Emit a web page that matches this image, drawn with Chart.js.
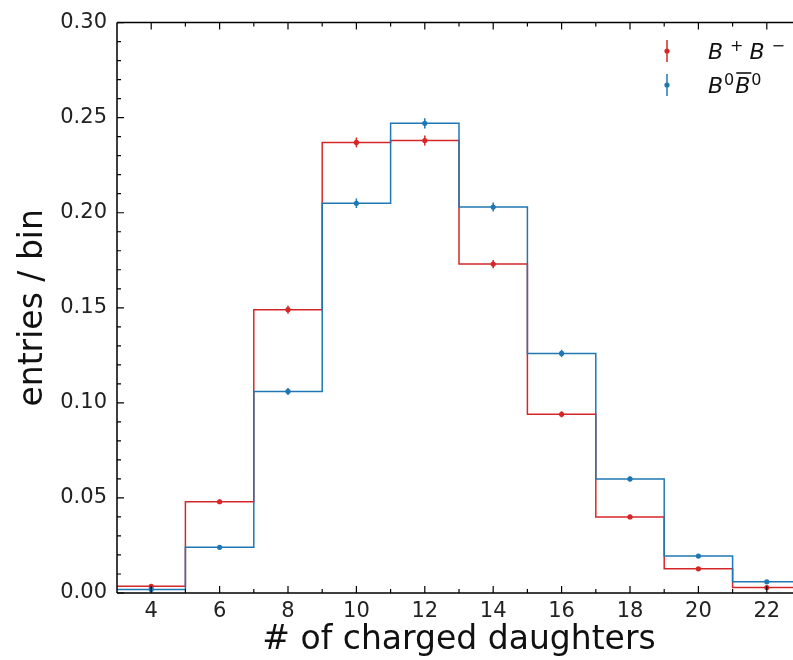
<!DOCTYPE html>
<html>
<head>
<meta charset="utf-8">
<script src="https://cdn.jsdelivr.net/npm/chart.js@4.4.1/dist/chart.umd.min.js"></script>
<style>
  html, body { margin: 0; padding: 0; background: #fff; overflow: hidden; }
  #wrap { width: 793px; height: 660px; overflow: hidden; }
</style>
</head>
<body>
<div id="wrap"><canvas id="histChart" width="805" height="660"></canvas></div>
<script>
// bin centres (# of charged daughters), bin width 2
const binCenters = [4, 6, 8, 10, 12, 14, 16, 18, 20, 22];
const binWidth = 2;

// normalised entries per bin
const chargedValues = [0.0035, 0.048, 0.149, 0.237, 0.238, 0.173, 0.094, 0.040, 0.0127, 0.0029];
const chargedErrors = [0.0004, 0.0012, 0.0021, 0.0026, 0.0026, 0.0022, 0.0016, 0.0010, 0.0006, 0.0003];
const neutralValues = [0.0019, 0.024, 0.106, 0.205, 0.247, 0.203, 0.126, 0.060, 0.0194, 0.0059];
const neutralErrors = [0.0003, 0.0009, 0.0018, 0.0025, 0.0027, 0.0024, 0.0019, 0.0013, 0.0007, 0.0004];

const xTickLabels = [4, 6, 8, 10, 12, 14, 16, 18, 20, 22];
const yTickLabels = [0.00, 0.05, 0.10, 0.15, 0.20, 0.25, 0.30];

const RED = '#d62728';
const BLUE = '#1f77b4';
const FONT = "'DejaVu Sans', sans-serif";

// step outline: left edge of every bin carries that bin's value, plus closing right edge
function stepPoints(vals) {
    const pts = binCenters.map((c, i) => ({x: c - binWidth / 2, y: vals[i]}));
    pts.push({x: binCenters[binCenters.length - 1] + binWidth / 2, y: vals[vals.length - 1]});
    return pts;
}
function centerPoints(vals) {
    return binCenters.map((c, i) => ({x: c, y: vals[i]}));
}

// error bars on the marker datasets
const errorBars = {
    id: 'errorBars',
    afterDatasetsDraw(chart) {
        const ctx = chart.ctx;
        const y = chart.scales.y;
        chart.data.datasets.forEach((ds, i) => {
            if (!ds.errors) return;
            const meta = chart.getDatasetMeta(i);
            ctx.save();
            ctx.strokeStyle = ds.borderColor;
            ctx.lineWidth = 1.5;
            meta.data.forEach((pt, j) => {
                const v = ds.data[j].y, e = ds.errors[j];
                ctx.beginPath();
                ctx.moveTo(pt.x, y.getPixelForValue(v - e));
                ctx.lineTo(pt.x, y.getPixelForValue(v + e));
                ctx.stroke();
            });
            ctx.restore();
        });
    }
};

// matplotlib-like frame with inward ticks
const frame = {
    id: 'frame',
    afterDraw(chart) {
        const ctx = chart.ctx;
        const a = chart.chartArea;
        const xs = chart.scales.x, ys = chart.scales.y;
        ctx.save();
        ctx.strokeStyle = '#000';
        ctx.lineWidth = 1.5;
        ctx.beginPath();
        ctx.moveTo(a.left, a.top); ctx.lineTo(a.right, a.top);
        ctx.moveTo(a.left, a.top); ctx.lineTo(a.left, a.bottom);
        ctx.moveTo(a.left, a.bottom); ctx.lineTo(a.right, a.bottom);
        ctx.moveTo(a.right, a.top); ctx.lineTo(a.right, a.bottom);
        ctx.stroke();
        ctx.lineWidth = 1.2;
        ctx.beginPath();
        for (let v = Math.ceil(xs.min) + 1; v < xs.max; v++) {
            const px = xs.getPixelForValue(v);
            const len = (v % 2 === 0) ? 7 : 4;
            ctx.moveTo(px, a.bottom); ctx.lineTo(px, a.bottom - len);
            ctx.moveTo(px, a.top); ctx.lineTo(px, a.top + len);
        }
        for (let k = 0; k <= 30; k++) {
            const py = ys.getPixelForValue(k / 100);
            const len = (k % 5 === 0) ? 7 : 4;
            ctx.moveTo(a.left, py); ctx.lineTo(a.left + len, py);
        }
        ctx.stroke();
        ctx.restore();
    }
};

// legend with math-style labels
const mathLegend = {
    id: 'mathLegend',
    afterDraw(chart) {
        const ctx = chart.ctx;
        ctx.save();
        const rows = [
            {color: RED, y: 51, parts: [['B', 0, false], ['+', -8, false], ['B', 0, false], ['\u2212', -8, false]]},
            {color: BLUE, y: 85, parts: [['B', 0, false], ['0', -8, false], ['B', 0, true], ['0', -8, false]]}
        ];
        rows.forEach(r => {
            ctx.strokeStyle = r.color;
            ctx.fillStyle = r.color;
            ctx.lineWidth = 1.5;
            ctx.beginPath();
            ctx.moveTo(667, r.y - 11); ctx.lineTo(667, r.y + 11);
            ctx.stroke();
            ctx.beginPath();
            ctx.arc(667, r.y, 2.6, 0, Math.PI * 2);
            ctx.fill();
            ctx.fillStyle = '#111';
            ctx.strokeStyle = '#111';
            let x = 708;
            const base = r.y + 8;
            r.parts.forEach(([t, dy, bar]) => {
                const sup = dy !== 0;
                ctx.font = sup ? '16px ' + FONT : 'italic 22px ' + FONT;
                ctx.textBaseline = 'alphabetic';
                ctx.textAlign = 'left';
                const w = ctx.measureText(t).width;
                if (t === '+' || t === '\u2212') x += 6;
                ctx.fillText(t, x, base + dy);
                if (bar) {
                    ctx.lineWidth = 1.6;
                    ctx.beginPath();
                    ctx.moveTo(x + 1, base - 20); ctx.lineTo(x + w + 1, base - 20);
                    ctx.stroke();
                }
                x += w + (t === '+' ? 6 : 1);
            });
        });
        ctx.restore();
    }
};

new Chart(document.getElementById('histChart').getContext('2d'), {
    type: 'line',
    data: {
        datasets: [
            {
                label: 'B+B- hist',
                data: stepPoints(chargedValues),
                stepped: 'before',
                borderColor: RED,
                borderWidth: 1.5,
                pointRadius: 0,
                fill: false,
                order: 4
            },
            {
                label: 'B0B0bar hist',
                data: stepPoints(neutralValues),
                stepped: 'before',
                borderColor: BLUE,
                borderWidth: 1.5,
                pointRadius: 0,
                fill: false,
                order: 3
            },
            {
                label: 'B+B-',
                data: centerPoints(chargedValues),
                errors: chargedErrors,
                showLine: false,
                borderColor: RED,
                backgroundColor: RED,
                pointRadius: 2.6,
                pointBorderWidth: 0,
                order: 2
            },
            {
                label: 'B0B0bar',
                data: centerPoints(neutralValues),
                errors: neutralErrors,
                showLine: false,
                borderColor: BLUE,
                backgroundColor: BLUE,
                pointRadius: 2.6,
                pointBorderWidth: 0,
                order: 1
            }
        ]
    },
    options: {
        responsive: false,
        animation: false,
        layout: {padding: {top: 20, right: 0, left: 0, bottom: 0}},
        plugins: {
            legend: {display: false},
            tooltip: {enabled: false}
        },
        scales: {
            x: {
                type: 'linear',
                min: 3,
                max: 23,
                grid: {display: false, drawTicks: false},
                border: {display: false},
                afterBuildTicks: axis => { axis.ticks = xTickLabels.map(v => ({value: v})); },
                afterFit: axis => { axis.height = 67; },
                ticks: {
                    padding: 6,
                    color: '#222',
                    font: {family: FONT, size: 21},
                    maxRotation: 0,
                    autoSkip: false
                },
                title: {
                    display: true,
                    text: '# of charged daughters',
                    color: '#111',
                    font: {family: FONT, size: 33},
                    padding: {top: 0, bottom: 0}
                }
            },
            y: {
                min: 0,
                max: 0.30,
                grid: {display: false, drawTicks: false},
                border: {display: false},
                afterBuildTicks: axis => { axis.ticks = yTickLabels.map(v => ({value: v})); },
                afterFit: axis => { axis.width = 117; },
                ticks: {
                    padding: 10,
                    color: '#222',
                    font: {family: FONT, size: 21},
                    callback: v => v.toFixed(2)
                },
                title: {
                    display: true,
                    text: 'entries / bin',
                    color: '#111',
                    font: {family: FONT, size: 33},
                    padding: {top: 14, bottom: 4}
                }
            }
        }
    },
    plugins: [errorBars, frame, mathLegend]
});
</script>
</body>
</html>
